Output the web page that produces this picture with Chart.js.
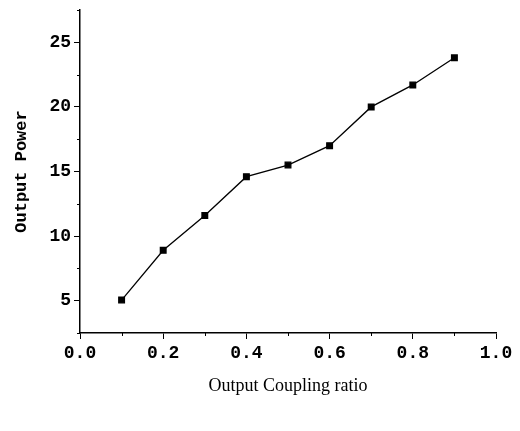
<!DOCTYPE html>
<html>
<head>
<meta charset="utf-8">
<script src="https://cdn.jsdelivr.net/npm/chart.js@4.4.1/dist/chart.umd.min.js"></script>
<style>
html, body { margin: 0; padding: 0; background: #fff; }
#wrap { width: 520px; height: 431px; }
</style>
</head>
<body>
<div id="wrap"><canvas id="myChart" width="520" height="431"></canvas></div>
<script>
const ratios = [0.1, 0.2, 0.3, 0.4, 0.5, 0.6, 0.7, 0.8, 0.9];
const power = [5.05, 8.9, 11.6, 14.6, 15.5, 17.0, 20.0, 21.7, 23.8];
const xMinorTicks = [0.1, 0.3, 0.5, 0.7, 0.9];
const yMinorTicks = [2.5, 7.5, 12.5, 17.5, 22.5, 27.5];

const points = ratios.map((r, i) => ({ x: r, y: power[i] }));

// small outward ticks between the labelled ones
const minorTicks = {
    id: 'minorTicks',
    afterDraw(chart) {
        const ctx = chart.ctx;
        const x = chart.scales.x;
        const y = chart.scales.y;
        const area = chart.chartArea;
        ctx.save();
        ctx.strokeStyle = '#000';
        ctx.lineWidth = 1;
        ctx.beginPath();
        xMinorTicks.forEach(v => {
            const px = Math.round(x.getPixelForValue(v)) + 0.5;
            ctx.moveTo(px, area.bottom);
            ctx.lineTo(px, area.bottom + 3);
        });
        yMinorTicks.forEach(v => {
            const py = Math.round(y.getPixelForValue(v)) + 0.5;
            ctx.moveTo(area.left, py);
            ctx.lineTo(area.left - 3, py);
        });
        ctx.stroke();
        ctx.restore();
    }
};

const config = {
    type: 'scatter',
    data: {
        datasets: [{
            label: 'Output Power',
            data: points,
            showLine: true,
            borderColor: '#000',
            backgroundColor: '#000',
            borderWidth: 1.3,
            tension: 0,
            pointStyle: 'rect',
            pointRadius: 4,
            pointHoverRadius: 4,
        }]
    },
    options: {
        responsive: false,
        animation: false,
        layout: { padding: { top: 10, right: 24, bottom: 34, left: 12 } },
        plugins: {
            legend: { display: false },
            tooltip: { enabled: false }
        },
        scales: {
            x: {
                type: 'linear',
                min: 0,
                max: 1,
                border: { display: true, color: '#000', width: 1.5 },
                grid: { drawOnChartArea: false, drawTicks: true, tickLength: 6, color: '#000' },
                ticks: {
                    stepSize: 0.2,
                    color: '#000',
                    padding: 4,
                    font: { family: 'Liberation Mono', size: 18, weight: 'bold' },
                    callback: v => v.toFixed(1)
                },
                title: {
                    display: true,
                    text: 'Output Coupling ratio',
                    color: '#000',
                    font: { family: 'Liberation Serif', size: 18 },
                    padding: { top: 20, bottom: 0 }
                },
                afterFit: s => { s.height = 64; }
            },
            y: {
                min: 2.5,
                max: 27.5,
                border: { display: true, color: '#000', width: 1.5 },
                grid: { drawOnChartArea: false, drawTicks: true, tickLength: 6, color: '#000' },
                afterBuildTicks: s => { s.ticks = s.ticks.filter(t => t.value % 5 === 0); },
                ticks: {
                    stepSize: 2.5,
                    color: '#000',
                    padding: 3,
                    font: { family: 'Liberation Mono', size: 18, weight: 'bold' }
                },
                title: {
                    display: true,
                    text: 'Output Power',
                    color: '#000',
                    font: { family: 'Liberation Mono', size: 17, weight: 'bold' },
                    padding: { top: 0, bottom: 4 }
                },
                afterFit: s => {
                    s.width = 68;
                    s.paddingTop = 0;
                    s.paddingBottom = 0;
                }
            }
        }
    },
    plugins: [minorTicks]
};

const myChart = new Chart(document.getElementById('myChart'), config);
</script>
</body>
</html>
